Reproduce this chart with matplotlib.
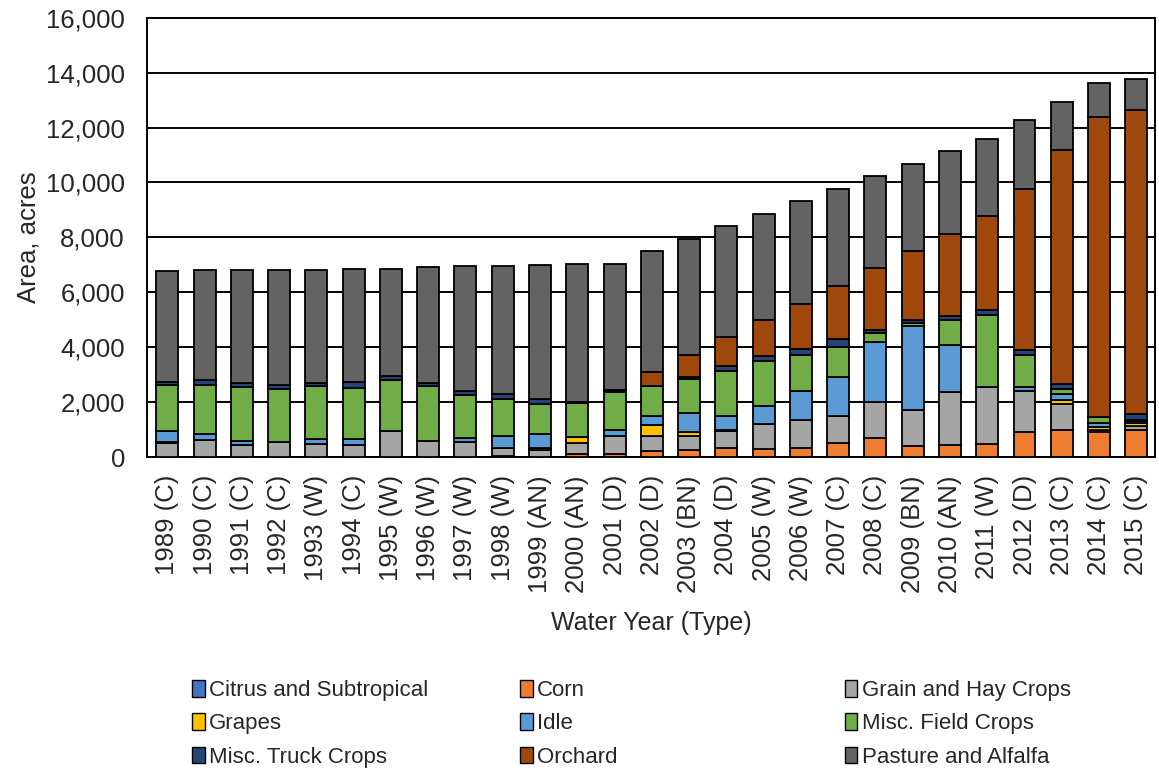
import matplotlib
matplotlib.use("Agg")
import matplotlib.pyplot as plt
import numpy as np
from matplotlib.patches import Patch

years = ["1989 (C)", "1990 (C)", "1991 (C)", "1992 (C)", "1993 (W)", "1994 (C)",
         "1995 (W)", "1996 (W)", "1997 (W)", "1998 (W)", "1999 (AN)", "2000 (AN)",
         "2001 (D)", "2002 (D)", "2003 (BN)", "2004 (D)", "2005 (W)", "2006 (W)",
         "2007 (C)", "2008 (C)", "2009 (BN)", "2010 (AN)", "2011 (W)", "2012 (D)",
         "2013 (C)", "2014 (C)", "2015 (C)"]

# acres by crop group, stacked bottom to top in this order
citrus = [10, 10, 10, 10, 10, 10, 10, 10, 10, 10, 10, 10, 10, 10,
          10, 10, 10, 10, 10, 10, 10, 10, 10, 10, 10, 10, 10]
corn = [0, 0, 0, 0, 0, 0, 0, 0, 0, 30, 0, 109, 100, 194,
        255, 316, 280, 316, 499, 680, 401, 437, 474, 887, 960, 887, 960]
grain = [500, 620, 437, 535, 474, 437, 923, 559, 523, 286, 231, 390, 665, 571,
         510, 607, 923, 1008, 971, 1313, 1288, 1907, 2053, 1519, 959, 73, 146]
grapes = [30, 0, 0, 0, 0, 0, 0, 0, 0, 20, 85, 218, 0, 377,
          134, 61, 0, 0, 0, 0, 0, 0, 0, 0, 134, 109, 121]
idle = [420, 207, 120, 0, 170, 219, 0, 0, 157, 430, 514, 0, 219, 352,
        693, 486, 656, 1057, 1422, 2174, 3086, 1738, 0, 121, 243, 158, 60]
misc_field = [1670, 1797, 1968, 1943, 1919, 1847, 1884, 2029, 1580, 1349, 1102, 1239, 1373, 1069,
              1240, 1640, 1641, 1337, 1106, 341, 100, 887, 2649, 1191, 170, 206, 61]
misc_truck = [98, 158, 159, 146, 123, 219, 145, 98, 121, 170, 170, 50, 85, 30,
              73, 182, 157, 207, 291, 97, 119, 145, 157, 158, 195, 0, 219]
orchard = [0, 0, 0, 0, 0, 0, 0, 0, 0, 0, 0, 0, 0, 481,
           789, 1057, 1312, 1652, 1919, 2272, 2515, 3015, 3427, 5880, 8504, 10948, 11081]
pasture = [4058, 4034, 4130, 4192, 4130, 4131, 3901, 4215, 4556, 4653, 4871, 5022, 4580, 4411,
           4252, 4046, 3889, 3729, 3548, 3341, 3171, 3000, 2831, 2504, 1765, 1215, 1094]

crop_names = ["Citrus and Subtropical", "Corn", "Grain and Hay Crops", "Grapes", "Idle",
              "Misc. Field Crops", "Misc. Truck Crops", "Orchard", "Pasture and Alfalfa"]
crop_values = [citrus, corn, grain, grapes, idle, misc_field, misc_truck, orchard, pasture]
crop_colors = ["#4472C4", "#ED7D31", "#A5A5A5", "#FFC000", "#5B9BD5",
               "#70AD47", "#264478", "#9E480E", "#636363"]

plt.rcParams['font.family'] = ['Liberation Sans', 'DejaVu Sans']
text_color = '#262626'

fig = plt.figure(figsize=(11.59, 7.72), dpi=100)
ax = fig.add_axes([0.127, 0.408, 0.8695, 0.569])

x = np.arange(len(years))
bottom = np.zeros(len(years))
for name, vals, color in zip(crop_names, crop_values, crop_colors):
    vals = np.array(vals, dtype=float)
    ax.bar(x, vals, width=0.59, bottom=bottom, color=color,
           edgecolor='black', linewidth=1.3, zorder=3)
    bottom += vals

ax.set_ylim(0, 16000)
ax.set_xlim(-0.54, len(years) - 0.5)
ax.set_yticks(np.arange(0, 16001, 2000))
ax.set_yticklabels([f"{v:,}" for v in range(0, 16001, 2000)])
ax.set_xticks(x)
ax.set_xticklabels(years, rotation=90)
ax.tick_params(axis='both', length=0, labelsize=18.5, colors=text_color)
ax.tick_params(axis='y', pad=16)
ax.tick_params(axis='x', pad=13)
ax.grid(axis='y', color='black', linewidth=1.4, zorder=0)
for spine in ax.spines.values():
    spine.set_color('black')
    spine.set_linewidth(1.4)

ax.set_ylabel("Area, acres", fontsize=18.5, color=text_color, labelpad=4)
ax.set_xlabel("Water Year (Type)", fontsize=18, color=text_color, labelpad=13)

# legend laid out row by row in three fixed columns
col_x = [0.166, 0.449, 0.729]
for col in range(3):
    idx = [col, col + 3, col + 6]
    handles = [Patch(facecolor=crop_colors[i], edgecolor='black', linewidth=1.0) for i in idx]
    labels = [crop_names[i] for i in idx]
    fig.legend(handles, labels, loc='upper left', bbox_to_anchor=(col_x[col], 0.119),
               bbox_transform=fig.transFigure,
               frameon=False, fontsize=16, handlelength=0.55, handleheight=0.75,
               handletextpad=0.2, labelspacing=0.55, borderaxespad=0, borderpad=0.0,
               labelcolor=text_color)

fig.savefig("out.png", dpi=100)
